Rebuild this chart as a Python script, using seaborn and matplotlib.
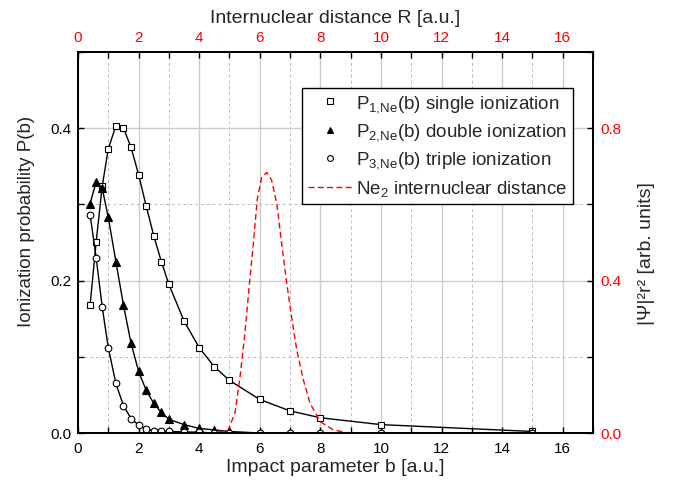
import matplotlib
matplotlib.use('Agg')
import matplotlib.pyplot as plt
import seaborn as sns
import numpy as np
import pandas as pd
from matplotlib.ticker import MultipleLocator, FixedLocator
from matplotlib.lines import Line2D

# ---------------- data ----------------
b_vals = [0.4, 0.6, 0.8, 1.0, 1.25, 1.5, 1.75, 2.0, 2.25, 2.5, 2.75, 3.0,
          3.5, 4.0, 4.5, 5.0, 6.0, 7.0, 8.0, 10.0, 15.0]
P1_single = [0.168, 0.251, 0.324, 0.373, 0.403, 0.400, 0.375, 0.339, 0.298,
             0.259, 0.225, 0.195, 0.147, 0.112, 0.087, 0.069, 0.044, 0.029,
             0.020, 0.011, 0.002]
P2_double = [0.301, 0.330, 0.321, 0.283, 0.225, 0.168, 0.118, 0.081, 0.056,
             0.039, 0.027, 0.018, 0.011, 0.006, 0.004, 0.002, 0.0, 0.0,
             0.0, 0.0, 0.0]
P3_triple = [0.286, 0.230, 0.165, 0.112, 0.065, 0.036, 0.019, 0.0105, 0.005,
             0.003, 0.0025, 0.002, 0.0015, 0.001, 0.0, 0.0, 0.0, 0.0,
             0.0, 0.0, 0.0]

R_vals = [4.0, 4.5, 4.96, 5.18, 5.35, 5.51, 5.65, 5.79, 5.92, 6.06, 6.23,
          6.39, 6.56, 6.72, 6.89, 7.05, 7.22, 7.44, 7.66, 7.99, 8.43, 8.87,
          9.5, 10.0]
psi_r2 = [0.0, 0.0, 0.008, 0.052, 0.148, 0.262, 0.384, 0.500, 0.615, 0.670,
          0.684, 0.664, 0.603, 0.498, 0.393, 0.305, 0.218, 0.139, 0.078,
          0.030, 0.008, 0.001, 0.0, 0.0]

x_ticks = [0, 2, 4, 6, 8, 10, 12, 14, 16]
left_ticks = [0.0, 0.2, 0.4]
right_ticks = [0.0, 0.4, 0.8]

legend_labels = [r'P$_{1,\!\mathrm{Ne}}$(b) single ionization',
                 r'P$_{2,\!\mathrm{Ne}}$(b) double ionization',
                 r'P$_{3,\!\mathrm{Ne}}$(b) triple ionization',
                 r'Ne$_{2}$ internuclear distance']

# ---------------- style ----------------
sns.set_theme(style='white')
plt.rcParams['font.family'] = ['Liberation Sans', 'DejaVu Sans']
plt.rcParams['mathtext.fontset'] = 'custom'
plt.rcParams['mathtext.rm'] = 'Liberation Sans'
plt.rcParams['mathtext.it'] = 'Liberation Sans:italic'
plt.rcParams['mathtext.bf'] = 'Liberation Sans:bold'

RED = '#ff0000'
fig = plt.figure(figsize=(6.75, 4.94), dpi=100)
ax = fig.add_axes([78 / 675, 1 - 433 / 494, 515 / 675, 381 / 494])

df = pd.DataFrame({'b': b_vals, 'P1': P1_single, 'P2': P2_double, 'P3': P3_triple})

series = [('P1', 's', 'white', 4.8),
          ('P2', '^', 'black', 5.8),
          ('P3', 'o', 'white', 4.8)]
for col, mk, fc, ms in series:
    sns.lineplot(data=df, x='b', y=col, ax=ax, color='black', linewidth=1.0,
                 marker=mk, markersize=ms, markerfacecolor=fc,
                 markeredgecolor='black', markeredgewidth=0.8,
                 estimator=None, sort=False, legend=False, zorder=3)

ax.set_xlim(0, 17)
ax.set_ylim(0, 0.5)
ax.xaxis.set_major_locator(FixedLocator(x_ticks))
ax.xaxis.set_minor_locator(MultipleLocator(1))
ax.yaxis.set_major_locator(FixedLocator(left_ticks))
ax.yaxis.set_minor_locator(MultipleLocator(0.1))
ax.set_xticklabels([str(t) for t in x_ticks])
ax.set_yticklabels(['%.1f' % t for t in left_ticks])

ax.grid(True, which='major', color='#cccccc', linewidth=1.0, linestyle='-')
ax.grid(True, which='minor', color='#bbbbbb', linewidth=0.7, linestyle=(0, (3, 3)))
ax.set_axisbelow(True)

ax.tick_params(which='both', direction='in', length=4, width=1, color='black',
               top=False, right=False, bottom=True, left=True,
               labelsize=11, labelcolor='black', pad=5)
ax.tick_params(axis='x', which='both', pad=6.5)
ax.set_xlabel('Impact parameter b [a.u.]', fontsize=14, labelpad=2)
ax.set_ylabel('Ionization probability P(b)', fontsize=13.5)
ax.yaxis.set_label_coords(-0.0835, 0.554)

# right axis
ax2 = ax.twinx()
ax2.set_ylim(0, 1.0)
ax2.yaxis.set_major_locator(FixedLocator(right_ticks))
ax2.yaxis.set_minor_locator(MultipleLocator(0.2))
ax2.set_yticklabels(['%.1f' % t for t in right_ticks])
ax2.tick_params(axis='y', which='both', direction='in', length=4, width=1,
                color='black', labelsize=11, labelcolor=RED, pad=5)
ax2.set_ylabel('|Ψ|²r² [arb. units]', fontsize=14)
ax2.yaxis.set_label_coords(1.087, 0.471)

# top axis
ax3 = ax2.twiny()
ax3.set_xlim(0, 17)
ax3.xaxis.set_major_locator(FixedLocator(x_ticks))
ax3.xaxis.set_minor_locator(MultipleLocator(1))
ax3.set_xticklabels([str(t) for t in x_ticks])
ax3.tick_params(axis='x', which='both', direction='in', length=4, width=1,
                color='black', labelsize=11, labelcolor=RED, pad=5)
ax3.set_xlabel('Internuclear distance R [a.u.]', fontsize=14, labelpad=6)

sns.lineplot(x=R_vals, y=psi_r2, ax=ax3, color=RED, linewidth=1.0,
             linestyle=(0, (4.3, 2.4)), estimator=None, sort=False, legend=False)
ax3.set_ylim(0, 1.0)

for a in (ax, ax2, ax3):
    for s in a.spines.values():
        s.set_color('black')
        s.set_linewidth(1.3)

handles = [
    Line2D([], [], color='black', linestyle='none', marker='s', markersize=4.2,
           markerfacecolor='white', markeredgewidth=0.8),
    Line2D([], [], color='black', linestyle='none', marker='^', markersize=5.0,
           markerfacecolor='black', markeredgewidth=0.8),
    Line2D([], [], color='black', linestyle='none', marker='o', markersize=4.2,
           markerfacecolor='white', markeredgewidth=0.8),
    Line2D([], [], color=RED, linestyle=(0, (4.3, 2.4)), linewidth=1.0),
]
leg = ax3.legend(handles, legend_labels, loc='upper right',
                 bbox_to_anchor=((573 - 78) / 515, (433 - 88) / 381),
                 fontsize=13.5, frameon=True,
                 fancybox=False, framealpha=1, edgecolor='black',
                 handlelength=2.4, handletextpad=0.18, labelspacing=0.4,
                 borderpad=0.3, borderaxespad=0.0)
leg.get_frame().set_linewidth(1.0)
leg.set_zorder(10)

fig.savefig('out.png', dpi=100)
